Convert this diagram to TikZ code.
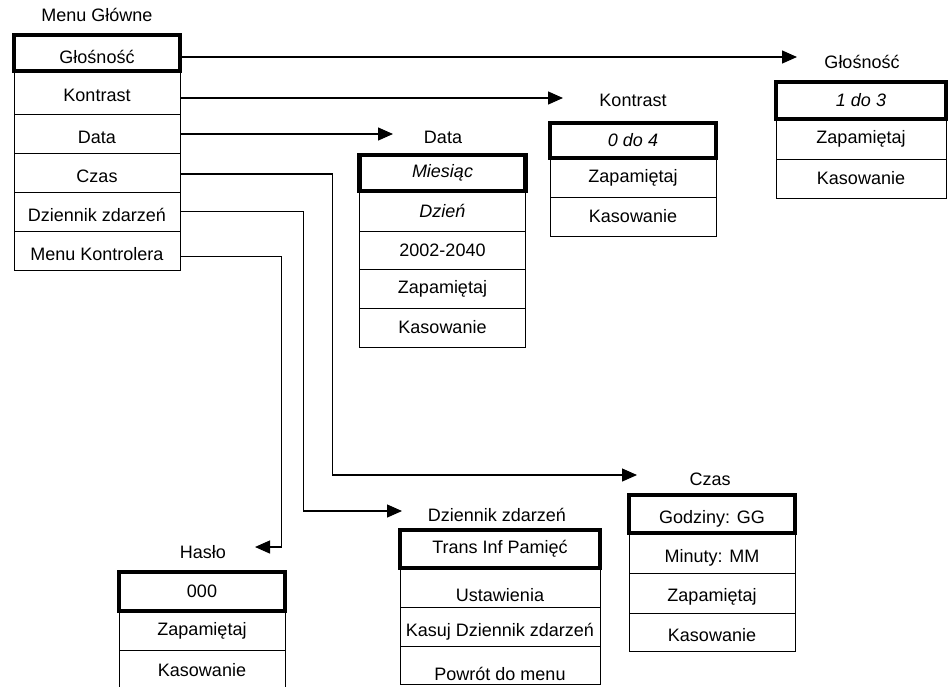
\documentclass[tikz,border=0pt]{standalone}
\usepackage{fontspec}
\setmainfont{Liberation Sans}
\usetikzlibrary{arrows.meta}

\begin{document}
\begin{tikzpicture}[x=1pt, y=-1pt, font=\fontsize{18}{21}\selectfont,
    item/.style={draw, line width=0.8pt, inner sep=0pt, minimum width=166pt, minimum height=#1},
    item/.default=39pt,
    sel/.style={item=#1, line width=4.5pt},
    sel/.default=37pt,
    low/.style={text height=#1, text depth=2pt},
    conn/.style={line width=1.3pt, ->, >={Triangle[length=15pt,width=13pt]}}]
    \useasboundingbox (0,0) rectangle (949,686);
    \node (lMenu) at (97,15) {Menu Główne};
    \node[item=43pt, low=20pt] (mKontr) at (97,92.5) {Kontrast};
    \node[item, low=22pt] (mData) at (97,133.5) {Data};
    \node[item, low=22pt] (mCzas) at (97,172.5) {Czas};
    \node[item, low=22pt] (mDzien) at (97,211.5) {Dziennik zdarzeń};
    \node[item, low=22pt] (mMenu) at (97,250.5) {Menu Kontrolera};
    \node[sel=36pt, low=22pt] (mGlos) at (97,53) {Głośność};

    \node (lData) at (443,137) {Data};
    \node[item=40pt] (dDzien) at (442.5,211) {\textit{Dzień}};
    \node[item=38pt] (dLata) at (442.5,250) {2002-2040};
    \node[item] (dZap) at (442.5,288.5) {Zapamiętaj};
    \node[item] (dKas) at (442.5,327.5) {Kasowanie};
    \node[sel=36pt] (dMies) at (442.5,173) {\textit{Miesiąc}};

    \node (lKontr) at (633,100) {Kontrast};
    \node[item] (kZap) at (633,177.5) {Zapamiętaj};
    \node[item] (kKas) at (633,216.5) {Kasowanie};
    \node[sel=35pt] (kVal) at (633,140.5) {\textit{0 do 4}};

    \node (lGlos) at (862,62) {Głośność};
    \node[item=40pt, minimum width=170pt] (gZap) at (861,139) {Zapamiętaj};
    \node[item, minimum width=170pt] (gKas) at (861,178.5) {Kasowanie};
    \node[sel, minimum width=170pt] (gVal) at (861,100.5) {\textit{1 do 3}};

    \node (lCzas) at (710,479) {Czas};
    \node[item=40pt, low=20pt] (cMin) at (712,553) {Minuty: MM};
    \node[item=40pt, low=19pt] (cZap) at (712,593) {Zapamiętaj};
    \node[item=38pt, low=20pt] (cKas) at (712,632) {Kasowanie};
    \node[sel=38pt, low=20pt] (cGodz) at (712,514) {Godziny: GG};

    \node (lDzien) at (497,515) {Dziennik zdarzeń};
    \node[item, minimum width=200pt, low=29pt] (zUst) at (500,587.5) {Ustawienia};
    \node[item, minimum width=200pt, low=21pt] (zKasuj) at (500,626.5) {Kasuj Dziennik zdarzeń};
    \node[item=38pt, minimum width=200pt, low=33pt] (zPowr) at (500,665) {Powrót do menu};
    \node[sel=38pt, minimum width=200pt] (zTrans) at (500,549) {Trans Inf Pamięć};

    \node (lHaslo) at (203,552) {Hasło};
    \node[item] (hZap) at (202,630.5) {Zapamiętaj};
    \node[item=40pt] (hKas) at (202,670) {Kasowanie};
    \node[sel=39pt] (hVal) at (202,591.5) {000};

    \coordinate (tGlos) at (797,57);
    \coordinate (tKontr) at (563,98);
    \coordinate (tData) at (393,134);
    \coordinate (tCzas) at (637,475);
    \coordinate (tDzien) at (402,511);
    \coordinate (tHaslo) at (255,547);

    \draw[conn] (mGlos.east |- tGlos) -- (tGlos);
    \draw[conn] (mKontr.east |- tKontr) -- (tKontr);
    \draw[conn] (mData.east |- tData) -- (tData);
    \draw[conn] ([yshift=-1.5pt]mCzas.east) -- ++(152,0) |- (tCzas);
    \draw[conn] (mDzien.east) -- ++(123,0) |- (tDzien);
    \draw[conn] ([yshift=-6pt]mMenu.east) -- ++(101,0) |- (tHaslo);
\end{tikzpicture}
\end{document}
